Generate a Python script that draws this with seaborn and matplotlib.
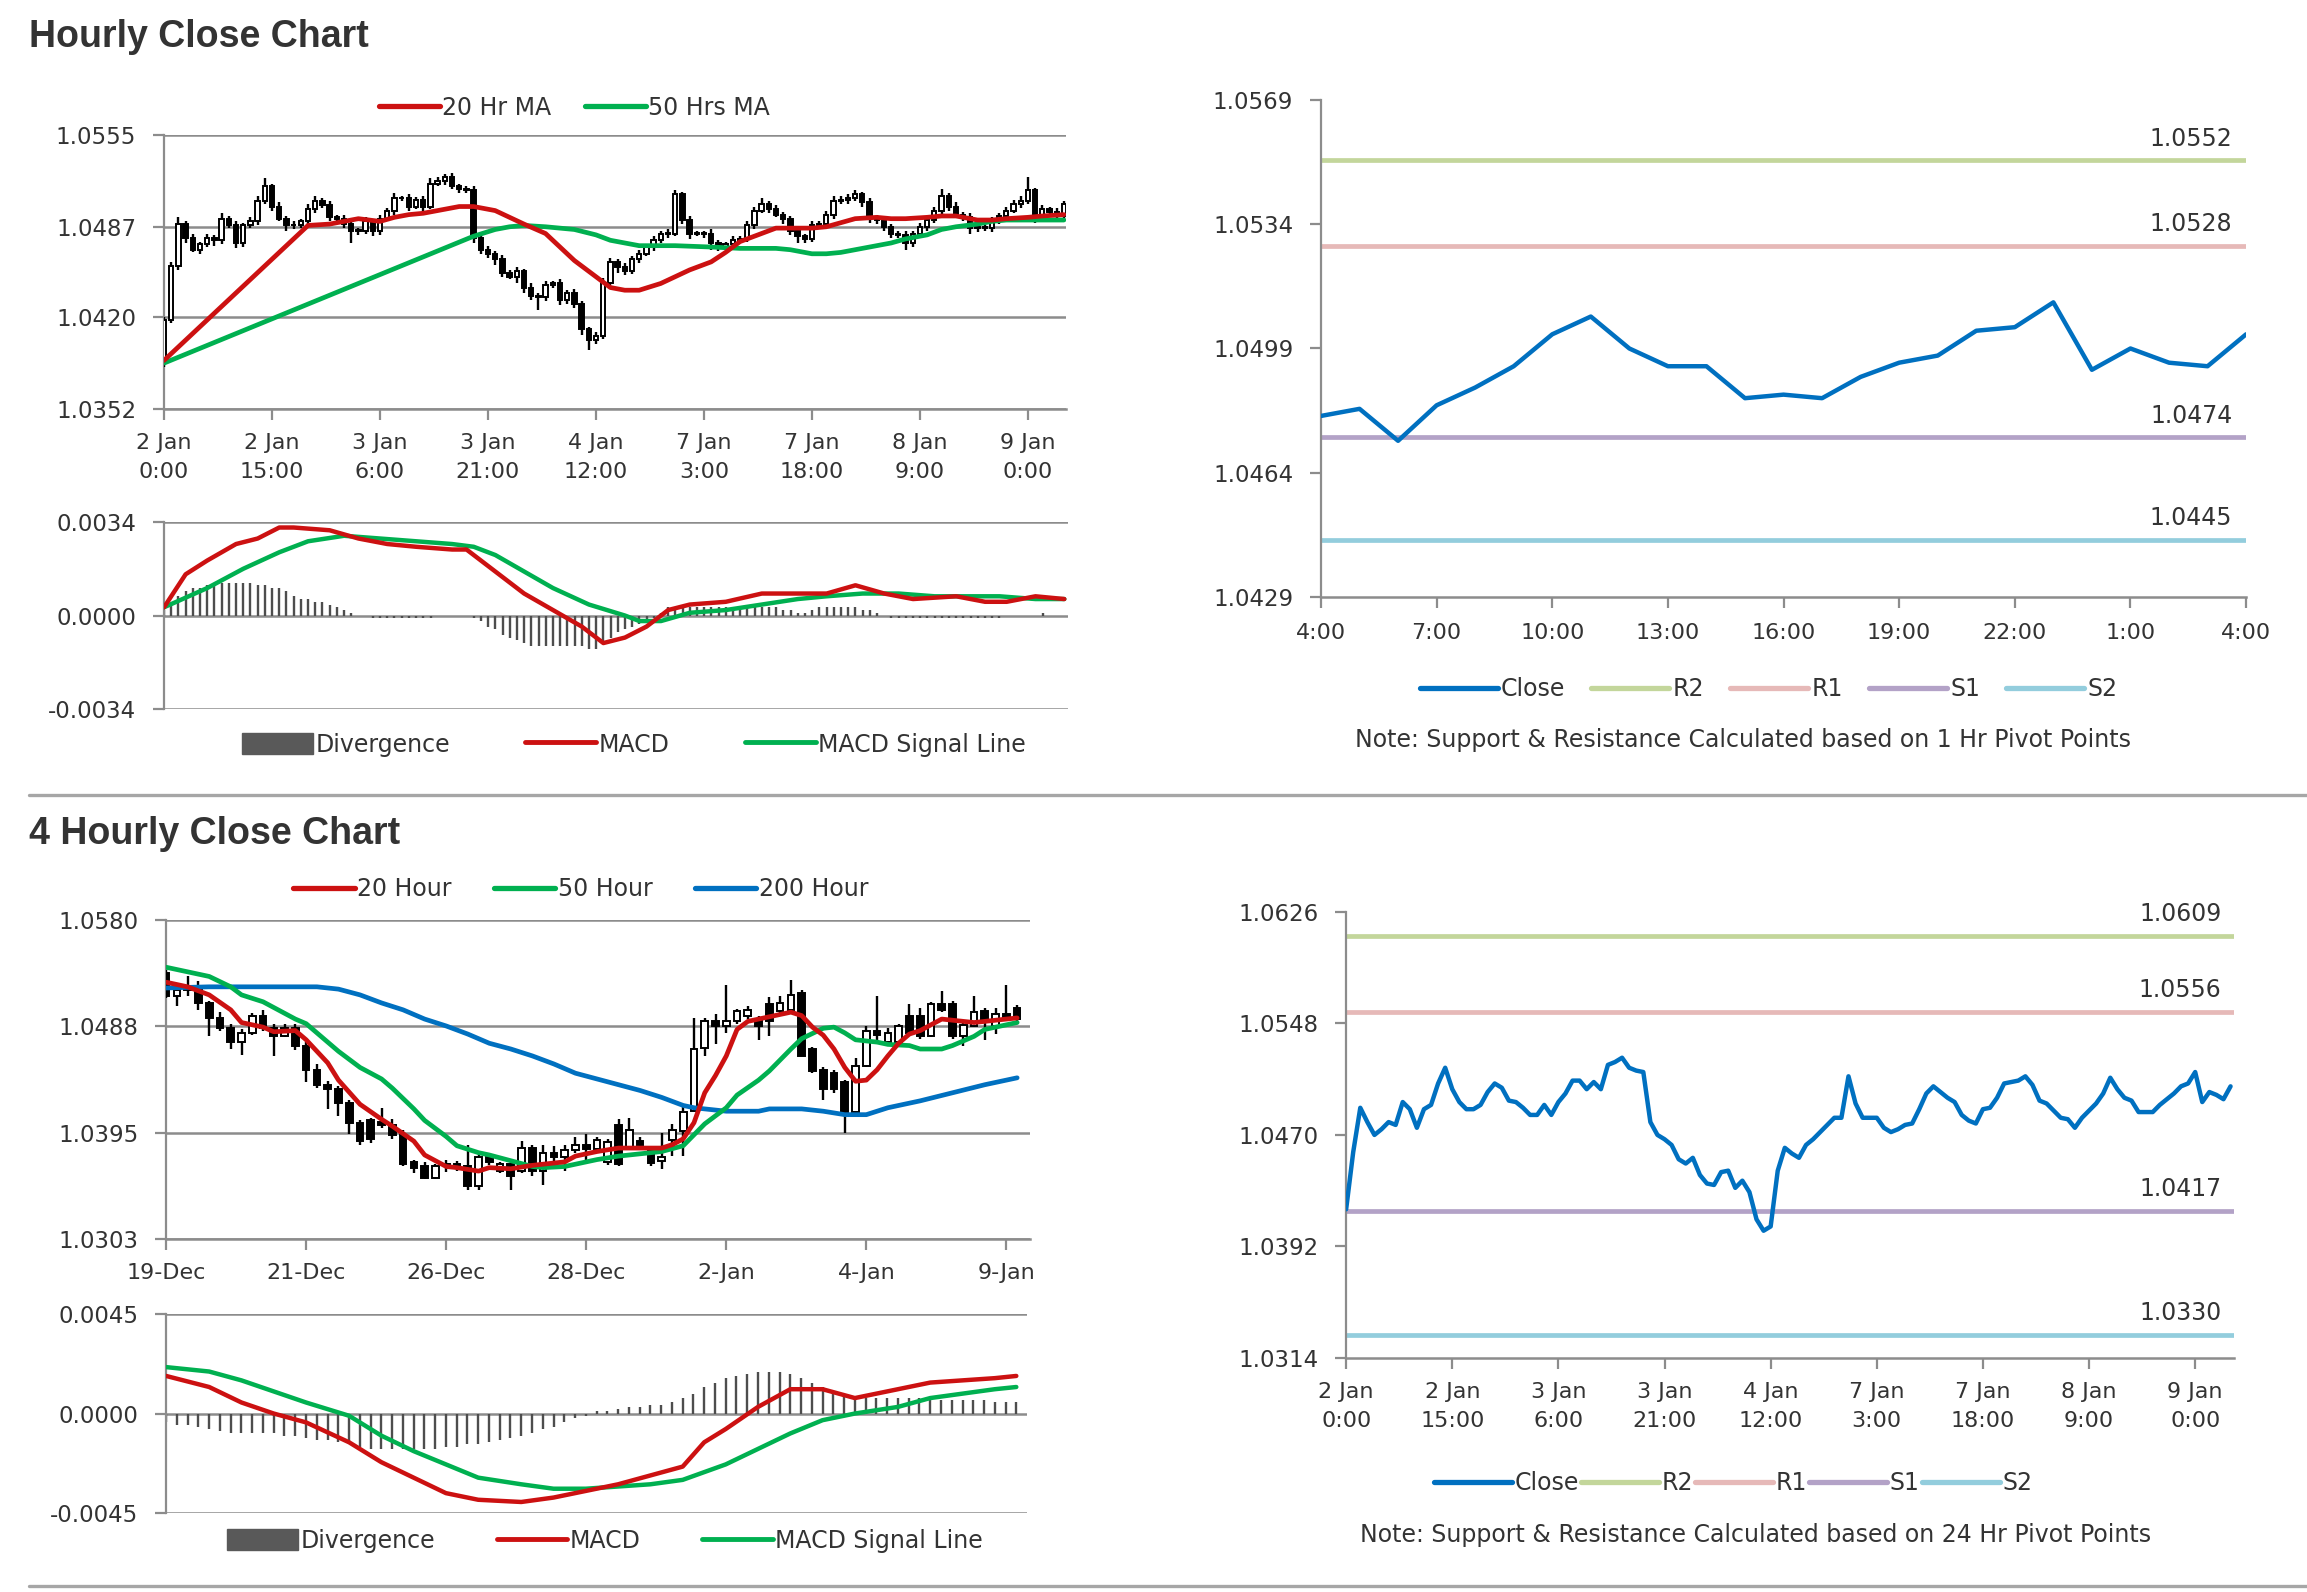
import numpy as np
import matplotlib
matplotlib.use('Agg')
import matplotlib.pyplot as plt
import seaborn as sns
from matplotlib.lines import Line2D
from matplotlib.patches import Patch

sns.set_theme(style='white')
plt.rcParams['font.family'] = ['DejaVu Sans']

# ---------------- data: hourly chart (2 Jan 0:00 -> 9 Jan) ----------------
hourly_close = [1.0418, 1.0458, 1.0489, 1.0479, 1.0470, 1.0474, 1.0479, 1.0477, 1.0493, 1.0488,
                1.0475, 1.0488, 1.0491, 1.0506, 1.0517, 1.0502, 1.0493, 1.0488, 1.0488, 1.0491,
                1.0500, 1.0506, 1.0503, 1.0494, 1.0493, 1.0489, 1.0484, 1.0484, 1.0491, 1.0484,
                1.0493, 1.0499, 1.0508, 1.0508, 1.0502, 1.0507, 1.0502, 1.0519, 1.0521, 1.0524,
                1.0517, 1.0515, 1.0514, 1.0479, 1.0470, 1.0467, 1.0463, 1.0453, 1.0450, 1.0454,
                1.0442, 1.0436, 1.0435, 1.0444, 1.0445, 1.0433, 1.0438, 1.0430, 1.0411, 1.0403,
                1.0406, 1.0445, 1.0461, 1.0457, 1.0454, 1.0463, 1.0467, 1.0472, 1.0477, 1.0482,
                1.0482, 1.0511, 1.0492, 1.0482, 1.0482, 1.0482, 1.0475, 1.0472, 1.0474, 1.0477,
                1.0478, 1.0488, 1.0499, 1.0504, 1.0500, 1.0496, 1.0493, 1.0484, 1.0480, 1.0478,
                1.0488, 1.0489, 1.0496, 1.0506, 1.0507, 1.0508, 1.0511, 1.0505, 1.0494, 1.0492,
                1.0487, 1.0482, 1.0481, 1.0475, 1.0482, 1.0487, 1.0492, 1.0499, 1.0510, 1.0502,
                1.0496, 1.0494, 1.0486, 1.0486, 1.0486, 1.0491, 1.0495, 1.0499, 1.0504, 1.0506,
                1.0514, 1.0493, 1.0500, 1.0498, 1.0495, 1.0504]
hourly_first_open = 1.0386
# wick sizes in pips above / below the candle body
hourly_up_wick = [2, 3, 5, 2, 3, 2, 3, 2, 4, 2, 3, 2, 3, 4, 6, 2, 3, 2, 3, 2,
                  4, 4, 2, 3, 2, 3, 2, 2, 3, 2, 3, 2, 4, 2, 3, 2, 3, 4, 3, 2,
                  3, 2, 2, 3, 2, 3, 2, 3, 2, 3, 2, 3, 2, 3, 2, 3, 2, 3, 2, 2,
                  3, 4, 3, 2, 3, 2, 3, 2, 3, 2, 3, 3, 2, 3, 2, 2, 3, 2, 2, 3,
                  2, 3, 3, 4, 2, 3, 2, 2, 3, 2, 3, 2, 3, 4, 3, 3, 3, 2, 3, 2,
                  3, 2, 2, 3, 2, 3, 2, 3, 5, 2, 3, 2, 3, 2, 2, 3, 2, 3, 3, 4,
                  10, 2, 3, 2, 3, 2]
hourly_down_wick = [3, 2, 3, 4, 2, 3, 2, 4, 3, 2, 4, 3, 2, 3, 2, 3, 2, 4, 3, 2,
                    2, 3, 2, 3, 4, 3, 9, 3, 2, 4, 3, 2, 3, 2, 3, 2, 3, 2, 2, 3,
                    2, 3, 2, 4, 3, 3, 4, 3, 2, 5, 4, 3, 10, 3, 2, 4, 3, 3, 4, 7,
                    3, 2, 3, 4, 3, 2, 3, 2, 3, 2, 3, 2, 3, 4, 2, 3, 5, 3, 2, 3,
                    2, 2, 3, 2, 3, 2, 4, 3, 5, 3, 2, 3, 2, 3, 2, 3, 2, 3, 4, 3,
                    3, 3, 2, 5, 3, 2, 3, 2, 3, 3, 2, 3, 4, 3, 2, 3, 2, 3, 2, 3,
                    2, 3, 2, 3, 3, 2]

ma20_h_bars = [0, 20, 23, 27, 30, 32, 34, 36, 39, 41, 43, 46, 48, 50, 53, 55, 57, 60, 62, 64, 66, 69, 71,
               73, 76, 78, 80, 83, 85, 87, 90, 92, 94, 96, 99, 101, 103, 106, 108, 110, 113, 115, 117,
               120, 122, 125]
ma20_h = [1.0388, 1.0488, 1.0489, 1.0493, 1.0491, 1.0494, 1.0496, 1.0497, 1.0500, 1.0502, 1.0502, 1.0499,
          1.0494, 1.0489, 1.0482, 1.0472, 1.0462, 1.0450, 1.0442, 1.0440, 1.0440, 1.0445, 1.0450, 1.0455,
          1.0461, 1.0468, 1.0476, 1.0482, 1.0486, 1.0486, 1.0486, 1.0487, 1.0490, 1.0493, 1.0494, 1.0493,
          1.0493, 1.0494, 1.0495, 1.0495, 1.0492, 1.0492, 1.0493, 1.0494, 1.0495, 1.0496]
ma50_h_bars = [0, 43, 46, 48, 50, 53, 55, 57, 60, 62, 64, 66, 71, 76, 80, 85, 87, 90, 92, 94, 96, 99,
               101, 103, 106, 108, 110, 113, 115, 117, 120, 125]
ma50_h = [1.0386, 1.0480, 1.0485, 1.0487, 1.0488, 1.0487, 1.0486, 1.0485, 1.0481, 1.0477, 1.0475, 1.0473,
          1.0473, 1.0472, 1.0471, 1.0471, 1.0470, 1.0467, 1.0467, 1.0468, 1.0470, 1.0473, 1.0475, 1.0478,
          1.0481, 1.0485, 1.0487, 1.0489, 1.0491, 1.0492, 1.0492, 1.0492]

macd_h_bars = [0, 3, 6, 10, 13, 16, 18, 23, 27, 31, 35, 40, 42, 46, 50, 54, 58, 61, 64, 67,
               70, 73, 78, 83, 88, 92, 96, 100, 104, 110, 114, 117, 121, 125]
macd_h = [0.0003, 0.0015, 0.0020, 0.0026, 0.0028, 0.0032, 0.0032, 0.0031, 0.0028, 0.0026,
          0.0025, 0.0024, 0.0024, 0.0016, 0.0008, 0.0002, -0.0004, -0.0010, -0.0008, -0.0004,
          0.0002, 0.0004, 0.0005, 0.0008, 0.0008, 0.0008, 0.0011, 0.0008, 0.0006, 0.0007,
          0.0005, 0.0005, 0.0007, 0.0006]
signal_h_bars = [0, 6, 11, 16, 20, 25, 30, 35, 40, 43, 46, 50, 54, 59, 64, 66, 69, 73, 78, 83,
                 88, 92, 97, 102, 107, 112, 116, 121, 125]
signal_h = [0.0003, 0.0010, 0.0017, 0.0023, 0.0027, 0.0029, 0.0028, 0.0027, 0.0026, 0.0025,
            0.0022, 0.0016, 0.0010, 0.0004, 0.0000, -0.0002, -0.0002, 0.0001, 0.0002, 0.0004,
            0.0006, 0.0007, 0.0008, 0.0008, 0.0007, 0.0007, 0.0007, 0.0006, 0.0006]
divergence_h = [0.0002, 0.0004, 0.0007, 0.0009, 0.0010, 0.0010, 0.0011, 0.0011, 0.0012, 0.0012,
                0.0012, 0.0012, 0.0012, 0.0011, 0.0011, 0.0010, 0.0010, 0.0009, 0.0007, 0.0006,
                0.0006, 0.0005, 0.0005, 0.0004, 0.0003, 0.0002, 0.0001, 0.0000, 0.0000, -0.0001,
                -0.0001, -0.0001, -0.0001, -0.0001, -0.0001, -0.0001, -0.0001, -0.0001, 0.0000, 0.0000,
                0.0000, 0.0000, 0.0000, -0.0001, -0.0002, -0.0004, -0.0005, -0.0007, -0.0008, -0.0009,
                -0.0010, -0.0011, -0.0011, -0.0011, -0.0011, -0.0011, -0.0011, -0.0011, -0.0011, -0.0012,
                -0.0012, -0.0010, -0.0008, -0.0006, -0.0005, -0.0004, -0.0003, -0.0002, -0.0001, 0.0001,
                0.0003, 0.0003, 0.0003, 0.0003, 0.0003, 0.0003, 0.0003, 0.0003, 0.0003, 0.0003,
                0.0003, 0.0003, 0.0003, 0.0003, 0.0003, 0.0003, 0.0002, 0.0002, 0.0001, 0.0001,
                0.0002, 0.0003, 0.0003, 0.0003, 0.0003, 0.0003, 0.0003, 0.0002, 0.0002, 0.0001,
                0.0000, -0.0001, -0.0001, -0.0001, -0.0001, -0.0001, -0.0001, -0.0001, -0.0001, -0.0001,
                -0.0001, -0.0001, -0.0001, -0.0001, -0.0001, -0.0001, -0.0001, 0.0000, 0.0000, 0.0000,
                0.0000, 0.0000, 0.0001, 0.0000, 0.0000, 0.0000]
hourly_tick_bars = [0, 15, 30, 45, 60, 75, 90, 105, 120]
hourly_tick_labels = ['2 Jan\n0:00', '2 Jan\n15:00', '3 Jan\n6:00', '3 Jan\n21:00', '4 Jan\n12:00',
                      '7 Jan\n3:00', '7 Jan\n18:00', '8 Jan\n9:00', '9 Jan\n0:00']

# ---------------- data: last 24 hours with 1 Hr pivots ----------------
last_day_close = [1.0480, 1.0482, 1.0473, 1.0483, 1.0488, 1.0494, 1.0503, 1.0508, 1.0499, 1.0494,
                  1.0494, 1.0485, 1.0486, 1.0485, 1.0491, 1.0495, 1.0497, 1.0504, 1.0505, 1.0512,
                  1.0493, 1.0499, 1.0495, 1.0494, 1.0503]
last_day_ticks = [0, 3, 6, 9, 12, 15, 18, 21, 24]
last_day_labels = ['4:00', '7:00', '10:00', '13:00', '16:00', '19:00', '22:00', '1:00', '4:00']
pivots_1h = {'R2': 1.0552, 'R1': 1.0528, 'S1': 1.0474, 'S2': 1.0445}

# ---------------- data: 4 hourly chart (19 Dec -> 9 Jan) ----------------
open_4h = [1.0534, 1.0514, 1.0519, 1.0521, 1.0508, 1.0495, 1.0486, 1.0474, 1.0482, 1.0497,
           1.0486, 1.0479, 1.0486, 1.0471, 1.0450, 1.0437, 1.0433, 1.0421, 1.0404, 1.0406,
           1.0405, 1.0402, 1.0393, 1.0370, 1.0366, 1.0356, 1.0366, 1.0368, 1.0366, 1.0349,
           1.0374, 1.0362, 1.0368, 1.0362, 1.0382, 1.0362, 1.0378, 1.0374, 1.0380, 1.0385,
           1.0381, 1.0370, 1.0402, 1.0383, 1.0388, 1.0380, 1.0371, 1.0389, 1.0397, 1.0414,
           1.0469, 1.0492, 1.0488, 1.0492, 1.0497, 1.0494, 1.0507, 1.0501, 1.0502, 1.0517,
           1.0468, 1.0450, 1.0447, 1.0439, 1.0413, 1.0453, 1.0484, 1.0474, 1.0474, 1.0497,
           1.0497, 1.0479, 1.0507, 1.0507, 1.0479, 1.0488, 1.0501, 1.0488, 1.0498, 1.0504]
close_4h = [1.0514, 1.0519, 1.0521, 1.0508, 1.0495, 1.0486, 1.0474, 1.0482, 1.0497, 1.0486,
            1.0479, 1.0486, 1.0471, 1.0450, 1.0437, 1.0433, 1.0421, 1.0404, 1.0388, 1.0390,
            1.0402, 1.0393, 1.0368, 1.0365, 1.0356, 1.0366, 1.0368, 1.0366, 1.0349, 1.0374,
            1.0370, 1.0368, 1.0358, 1.0382, 1.0362, 1.0378, 1.0374, 1.0380, 1.0385, 1.0381,
            1.0389, 1.0387, 1.0368, 1.0398, 1.0385, 1.0369, 1.0374, 1.0398, 1.0413, 1.0468,
            1.0492, 1.0488, 1.0492, 1.0501, 1.0502, 1.0488, 1.0492, 1.0508, 1.0515, 1.0462,
            1.0449, 1.0433, 1.0433, 1.0413, 1.0453, 1.0484, 1.0480, 1.0482, 1.0488, 1.0482,
            1.0479, 1.0507, 1.0502, 1.0479, 1.0489, 1.0500, 1.0492, 1.0498, 1.0495, 1.0494]
high_4h = [1.0537, 1.0524, 1.0531, 1.0527, 1.0510, 1.0500, 1.0490, 1.0485, 1.0499, 1.0502,
           1.0490, 1.0490, 1.0490, 1.0474, 1.0455, 1.0440, 1.0436, 1.0424, 1.0406, 1.0408,
           1.0417, 1.0407, 1.0398, 1.0372, 1.0370, 1.0368, 1.0372, 1.0371, 1.0385, 1.0378,
           1.0378, 1.0370, 1.0372, 1.0388, 1.0385, 1.0385, 1.0384, 1.0385, 1.0392, 1.0394,
           1.0392, 1.0390, 1.0407, 1.0408, 1.0392, 1.0384, 1.0395, 1.0403, 1.0420, 1.0495,
           1.0495, 1.0498, 1.0524, 1.0503, 1.0505, 1.0497, 1.0513, 1.0514, 1.0528, 1.0519,
           1.0470, 1.0452, 1.0450, 1.0441, 1.0460, 1.0488, 1.0514, 1.0486, 1.0490, 1.0507,
           1.0504, 1.0509, 1.0518, 1.0510, 1.0491, 1.0514, 1.0504, 1.0504, 1.0524, 1.0506]
low_4h = [1.0512, 1.0505, 1.0514, 1.0502, 1.0479, 1.0484, 1.0468, 1.0463, 1.0480, 1.0484,
          1.0462, 1.0478, 1.0467, 1.0439, 1.0434, 1.0416, 1.0410, 1.0394, 1.0385, 1.0386,
          1.0399, 1.0390, 1.0366, 1.0360, 1.0355, 1.0355, 1.0361, 1.0362, 1.0346, 1.0346,
          1.0367, 1.0360, 1.0346, 1.0360, 1.0358, 1.0350, 1.0367, 1.0362, 1.0378, 1.0372,
          1.0378, 1.0367, 1.0366, 1.0380, 1.0383, 1.0366, 1.0364, 1.0375, 1.0375, 1.0414,
          1.0462, 1.0472, 1.0482, 1.0490, 1.0494, 1.0476, 1.0479, 1.0499, 1.0501, 1.0462,
          1.0447, 1.0424, 1.0430, 1.0395, 1.0411, 1.0452, 1.0476, 1.0472, 1.0472, 1.0481,
          1.0477, 1.0478, 1.0500, 1.0477, 1.0471, 1.0487, 1.0476, 1.0481, 1.0492, 1.0492]

ma20_4h_bars = [0, 2, 4, 6, 7, 9, 10, 12, 13, 15, 16, 18, 20, 21, 23, 24, 26, 27, 29, 30,
                32, 34, 35, 37, 38, 40, 42, 46, 47, 48, 49, 50, 51, 52, 53, 54, 56, 58, 59, 60,
                61, 62, 63, 64, 65, 66, 67, 68, 69, 70, 72, 73, 75, 77, 79]
ma20_4h = [1.0526, 1.0522, 1.0515, 1.0502, 1.0491, 1.0487, 1.0483, 1.0484, 1.0476, 1.0456,
           1.0441, 1.0420, 1.0407, 1.0401, 1.0388, 1.0376, 1.0366, 1.0365, 1.0362, 1.0365,
           1.0364, 1.0367, 1.0368, 1.0370, 1.0375, 1.0379, 1.0382, 1.0382, 1.0385, 1.0390,
           1.0404, 1.0430, 1.0445, 1.0462, 1.0485, 1.0492, 1.0496, 1.0500, 1.0497, 1.0487,
           1.0480, 1.0468, 1.0452, 1.0440, 1.0441, 1.0450, 1.0462, 1.0473, 1.0481, 1.0484,
           1.0494, 1.0493, 1.0491, 1.0493, 1.0495]
ma50_4h_bars = [0, 2, 4, 6, 7, 9, 10, 12, 13, 15, 16, 18, 20, 21, 23, 24, 26, 27, 29, 30,
                32, 34, 35, 37, 38, 40, 42, 46, 48, 50, 52, 53, 55, 56, 58, 59, 61, 62, 63, 64,
                66, 67, 69, 70, 72, 73, 75, 76, 78, 79]
ma50_4h = [1.0539, 1.0535, 1.0531, 1.0522, 1.0515, 1.0509, 1.0504, 1.0494, 1.0490, 1.0474,
           1.0466, 1.0452, 1.0442, 1.0434, 1.0416, 1.0406, 1.0392, 1.0384, 1.0378, 1.0376,
           1.0371, 1.0366, 1.0365, 1.0366, 1.0368, 1.0372, 1.0375, 1.0379, 1.0384, 1.0403,
           1.0417, 1.0428, 1.0441, 1.0449, 1.0468, 1.0477, 1.0486, 1.0487, 1.0482, 1.0476,
           1.0474, 1.0472, 1.0471, 1.0468, 1.0468, 1.0471, 1.0479, 1.0485, 1.0489, 1.0491]
ma200_4h_bars = [0, 4, 8, 12, 14, 16, 18, 20, 22, 24, 26, 28, 30, 32, 34, 36, 38, 40, 42, 44,
                 46, 48, 49, 52, 55, 56, 59, 61, 63, 65, 67, 70, 73, 76, 79]
ma200_4h = [1.0521, 1.0522, 1.0522, 1.0522, 1.0522, 1.0520, 1.0515, 1.0508, 1.0502, 1.0494,
            1.0488, 1.0481, 1.0473, 1.0468, 1.0462, 1.0455, 1.0447, 1.0442, 1.0437, 1.0432,
            1.0426, 1.0419, 1.0417, 1.0414, 1.0414, 1.0416, 1.0416, 1.0414, 1.0411, 1.0411,
            1.0417, 1.0423, 1.0430, 1.0437, 1.0443]

macd_4h_bars = [0, 4, 7, 10, 13, 17, 20, 23, 26, 29, 33, 36, 39, 42, 45, 48, 50, 52, 55, 58,
                61, 64, 68, 71, 74, 77, 79]
macd_4h = [0.0017, 0.0012, 0.0005, 0.0000, -0.0004, -0.0013, -0.0022, -0.0029, -0.0036, -0.0039,
           -0.0040, -0.0038, -0.0035, -0.0032, -0.0028, -0.0024, -0.0013, -0.0007, 0.0003, 0.0011,
           0.0011, 0.0007, 0.0011, 0.0014, 0.0015, 0.0016, 0.0017]
signal_4h_bars = [0, 4, 7, 10, 13, 17, 20, 23, 26, 29, 33, 36, 39, 42, 45, 48, 52, 55, 58, 61,
                  64, 68, 71, 74, 77, 79]
signal_4h = [0.0021, 0.0019, 0.0015, 0.0010, 0.0005, -0.0001, -0.0010, -0.0017, -0.0023, -0.0029,
             -0.0032, -0.0034, -0.0034, -0.0033, -0.0032, -0.0030, -0.0023, -0.0016, -0.0009, -0.0003,
             0.0000, 0.0003, 0.0007, 0.0009, 0.0011, 0.0012]
divergence_4h = [-0.0004, -0.0005, -0.0005, -0.0006, -0.0007, -0.0008, -0.0009, -0.0009, -0.0009, -0.0009,
                 -0.0009, -0.0010, -0.0010, -0.0011, -0.0012, -0.0012, -0.0013, -0.0014, -0.0015, -0.0016,
                 -0.0016, -0.0016, -0.0016, -0.0016, -0.0016, -0.0016, -0.0015, -0.0015, -0.0014, -0.0014,
                 -0.0013, -0.0012, -0.0011, -0.0010, -0.0009, -0.0007, -0.0006, -0.0004, -0.0002, -0.0001,
                 0.0001, 0.0001, 0.0002, 0.0003, 0.0003, 0.0004, 0.0004, 0.0005, 0.0007, 0.0009,
                 0.0012, 0.0014, 0.0016, 0.0017, 0.0018, 0.0019, 0.0019, 0.0019, 0.0018, 0.0016,
                 0.0014, 0.0012, 0.0010, 0.0008, 0.0007, 0.0007, 0.0007, 0.0007, 0.0007, 0.0007,
                 0.0007, 0.0007, 0.0006, 0.0006, 0.0006, 0.0006, 0.0006, 0.0005, 0.0005, 0.0005]
tick_4h_bars = [0, 13, 26, 39, 52, 65, 78]
tick_4h_labels = ['19-Dec', '21-Dec', '26-Dec', '28-Dec', '2-Jan', '4-Jan', '9-Jan']

# 24 Hr pivots for the hourly close line (same hourly closes as the candles)
pivots_24h = {'R2': 1.0609, 'R1': 1.0556, 'S1': 1.0417, 'S2': 1.0330}

# ---------------- styling ----------------
RED = '#CC1111'
GREEN = '#00B050'
BLUE = '#0070C0'
LEVEL_COLORS = {'R2': '#C3D69B', 'R1': '#E6B9B8', 'S1': '#B3A2C7', 'S2': '#93CDDD'}
GRID = '#8C8C8C'
TXT = '#333333'
FS = 16.5      # tick labels
LFS = 17       # legends


def style_axis(ax, yticks, ylabels, grid=True, bottom_spine=True):
    ax.set_ylim(yticks[0], yticks[-1])
    ax.set_yticks(yticks)
    ax.set_yticklabels(ylabels, fontsize=FS, color=TXT)
    for s in ['top', 'right']:
        ax.spines[s].set_visible(False)
    ax.spines['left'].set_color(GRID)
    ax.spines['left'].set_linewidth(1.6)
    ax.spines['bottom'].set_visible(bottom_spine)
    ax.spines['bottom'].set_color(GRID)
    ax.spines['bottom'].set_linewidth(1.8)
    if grid:
        ax.yaxis.grid(True, color=GRID, lw=1.8)
    ax.xaxis.grid(False)
    ax.tick_params(axis='y', direction='out', length=8, width=1.6, color=GRID, pad=12, left=True)
    ax.tick_params(axis='x', direction='out', length=8, width=1.6, color=GRID, pad=9,
                   bottom=bottom_spine, labelsize=FS - 0.5, labelcolor=TXT)
    ax.set_xlabel('')
    ax.set_ylabel('')


def draw_candles(ax, o, h, l, c, width):
    x = np.arange(len(c))
    o, h, l, c = map(np.asarray, (o, h, l, c))
    ax.vlines(x, l, h, color='black', lw=1.7, zorder=3)
    up = c >= o
    body = np.maximum(np.abs(c - o), 0.00006)
    ax.bar(x, body, bottom=np.minimum(o, c), width=width, color=np.where(up, 'white', 'black'),
           edgecolor='black', lw=1.4, zorder=4)


def draw_macd(ax, div, mb, mv, sb, sv, lim, xmax):
    ax.vlines(np.arange(len(div)), 0, div, color='#4D4D4D', lw=1.7, zorder=2)
    sns.lineplot(x=mb, y=mv, ax=ax, color=RED, lw=3.2, zorder=4)
    sns.lineplot(x=sb, y=sv, ax=ax, color=GREEN, lw=3.2, zorder=3)
    ax.set_xlim(0, xmax)
    style_axis(ax, [-lim, 0, lim], [f'-{lim:.4f}', '0.0000', f'{lim:.4f}'], bottom_spine=False)
    ax.set_xticks([])
    handles = [Patch(color='#595959'), Line2D([], [], color=RED, lw=3.5), Line2D([], [], color=GREEN, lw=3.5)]
    return handles


def draw_levels(ax, pivots, close_x, close_y, xmax, label_x):
    sns.lineplot(x=close_x, y=close_y, ax=ax, color=BLUE, lw=3.2, zorder=4)
    for name, lvl in pivots.items():
        ax.axhline(lvl, color=LEVEL_COLORS[name], lw=3.4, zorder=2)
        ax.annotate(f'{lvl:.4f}', xy=(label_x, lvl), xycoords=('axes fraction', 'data'),
                    xytext=(0, 7), textcoords='offset points', ha='right', va='bottom',
                    fontsize=17, color=TXT)
    ax.set_xlim(0, xmax)
    handles = [Line2D([], [], color=BLUE, lw=3.8)] + \
              [Line2D([], [], color=LEVEL_COLORS[k], lw=3.8) for k in pivots]
    return handles


fig = plt.figure(figsize=(23.07, 15.92), dpi=100)

# ---- Hourly candles ----
ax = fig.add_axes([0.0711, 0.7431, 0.3910, 0.1721])
hourly_open = [hourly_first_open] + hourly_close[:-1]
hc = np.array(hourly_close)
ho = np.array(hourly_open)
hourly_high = np.maximum(ho, hc) + np.array(hourly_up_wick) * 0.0001
hourly_low = np.minimum(ho, hc) - np.array(hourly_down_wick) * 0.0001
draw_candles(ax, ho, hourly_high, hourly_low, hc, 0.6)
sns.lineplot(x=ma20_h_bars, y=ma20_h, ax=ax, color=RED, lw=3.4, zorder=6)
sns.lineplot(x=ma50_h_bars, y=ma50_h, ax=ax, color=GREEN, lw=3.4, zorder=5)
ax.set_xlim(0, 125.3)
style_axis(ax, [1.0352, 1.0420, 1.0487, 1.0555], ['1.0352', '1.0420', '1.0487', '1.0555'])
ax.set_xticks(hourly_tick_bars)
ax.set_xticklabels(hourly_tick_labels, linespacing=1.6)
ax.legend([Line2D([], [], color=RED, lw=3.8), Line2D([], [], color=GREEN, lw=3.8)],
          ['20 Hr MA', '50 Hrs MA'], loc='center', bbox_to_anchor=(0.455, 1.10), ncol=2,
          frameon=False, fontsize=LFS, handlelength=2.6, handletextpad=0.1, columnspacing=1.4,
          labelcolor=TXT)

# ---- Hourly MACD ----
ax = fig.add_axes([0.0711, 0.5546, 0.3918, 0.1175])
h = draw_macd(ax, divergence_h, macd_h_bars, macd_h, signal_h_bars, signal_h, 0.0034, 125.5)
ax.legend(h, ['Divergence', 'MACD', 'MACD Signal Line'], loc='center', bbox_to_anchor=(0.52, -0.19),
          ncol=3, frameon=False, fontsize=LFS, handlelength=3.0, handleheight=1.0, handletextpad=0.1,
          columnspacing=3.2, labelcolor=TXT)

# ---- Last 24 hours with 1 Hr pivots ----
ax = fig.add_axes([0.5726, 0.6250, 0.4010, 0.3122])
h = draw_levels(ax, pivots_1h, list(range(len(last_day_close))), last_day_close, 24, 0.985)
style_axis(ax, [1.0429, 1.0464, 1.0499, 1.0534, 1.0569],
           ['1.0429', '1.0464', '1.0499', '1.0534', '1.0569'], grid=False)
ax.set_xticks(last_day_ticks)
ax.set_xticklabels(last_day_labels)
ax.tick_params(axis='x', pad=11)
ax.legend(h, ['Close', 'R2', 'R1', 'S1', 'S2'], loc='center', bbox_to_anchor=(0.484, -0.185),
          ncol=5, frameon=False, fontsize=LFS, handlelength=3.3, handletextpad=0.15, columnspacing=1.1,
          labelcolor=TXT)
ax.text(0.456, -0.288, 'Note: Support & Resistance Calculated based on 1 Hr Pivot Points',
        transform=ax.transAxes, ha='center', va='center', fontsize=17, color=TXT)

# ---- 4 Hourly candles ----
ax = fig.add_axes([0.0720, 0.2217, 0.3745, 0.2004])
draw_candles(ax, open_4h, high_4h, low_4h, close_4h, 0.62)
sns.lineplot(x=ma200_4h_bars, y=ma200_4h, ax=ax, color=BLUE, lw=3.4, zorder=5)
sns.lineplot(x=ma50_4h_bars, y=ma50_4h, ax=ax, color=GREEN, lw=3.4, zorder=6)
sns.lineplot(x=ma20_4h_bars, y=ma20_4h, ax=ax, color=RED, lw=3.4, zorder=7)
ax.set_xlim(0, 80.2)
style_axis(ax, [1.0303, 1.0395, 1.0488, 1.0580], ['1.0303', '1.0395', '1.0488', '1.0580'])
ax.set_xticks(tick_4h_bars)
ax.set_xticklabels(tick_4h_labels)
ax.legend([Line2D([], [], color=c, lw=3.8) for c in (RED, GREEN, BLUE)],
          ['20 Hour', '50 Hour', '200 Hour'], loc='center', bbox_to_anchor=(0.48, 1.097), ncol=3,
          frameon=False, fontsize=LFS, handlelength=2.6, handletextpad=0.1, columnspacing=1.8,
          labelcolor=TXT)

# ---- 4 Hourly MACD ----
ax = fig.add_axes([0.0720, 0.0496, 0.3732, 0.1250])
h = draw_macd(ax, divergence_4h, macd_4h_bars, macd_4h, signal_4h_bars, signal_4h, 0.0045, 80)
ax.legend(h, ['Divergence', 'MACD', 'MACD Signal Line'], loc='center', bbox_to_anchor=(0.51, -0.14),
          ncol=3, frameon=False, fontsize=LFS, handlelength=3.0, handleheight=1.0, handletextpad=0.1,
          columnspacing=2.6, labelcolor=TXT)

# ---- Hourly close with 24 Hr pivots ----
ax = fig.add_axes([0.5835, 0.1470, 0.3849, 0.2802])
h = draw_levels(ax, pivots_24h, list(range(len(hourly_close))), hourly_close, 125.5, 0.986)
style_axis(ax, [1.0314, 1.0392, 1.0470, 1.0548, 1.0626],
           ['1.0314', '1.0392', '1.0470', '1.0548', '1.0626'], grid=False)
ax.set_xticks(hourly_tick_bars)
ax.set_xticklabels(hourly_tick_labels, linespacing=1.6)
ax.legend(h, ['Close', 'R2', 'R1', 'S1', 'S2'], loc='center', bbox_to_anchor=(0.436, -0.28),
          ncol=5, frameon=False, fontsize=LFS, handlelength=3.3, handletextpad=0.1, columnspacing=0.1,
          labelcolor=TXT)
ax.text(0.461, -0.397, 'Note: Support & Resistance Calculated based on 24 Hr Pivot Points',
        transform=ax.transAxes, ha='center', va='center', fontsize=17, color=TXT)

# ---- section titles and separators ----
title_font = ['Liberation Sans', 'DejaVu Sans']
fig.text(0.0126, 1 - 37 / 1592, 'Hourly Close Chart', fontsize=27, fontweight='bold', color=TXT,
         va='center', family=title_font)
fig.text(0.0126, 1 - 834 / 1592, '4 Hourly Close Chart', fontsize=27, fontweight='bold', color=TXT,
         va='center', family=title_font)
for yy in (1 - 795 / 1592, 1 - 1586 / 1592):
    fig.add_artist(Line2D([0.0126, 1.0], [yy, yy], transform=fig.transFigure, color='#A6A6A6', lw=2.4))

fig.savefig('out.png', dpi=100, facecolor='white')
